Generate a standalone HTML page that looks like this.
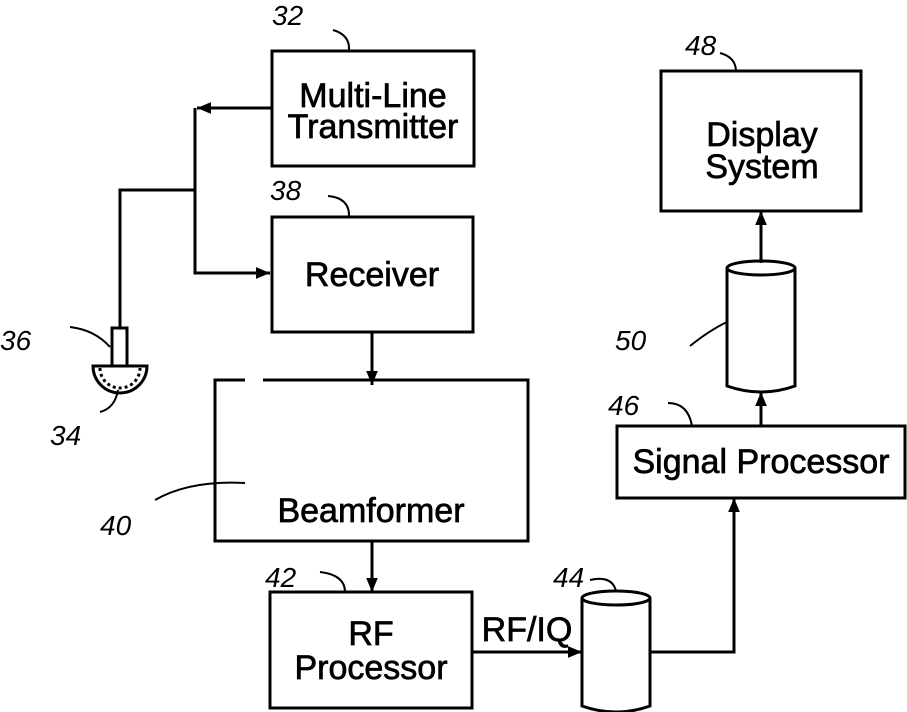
<!DOCTYPE html>
<html><head><style>html,body{margin:0;padding:0;background:#fff}svg{display:block}text{font-family:"Liberation Sans",sans-serif;fill:#000}</style></head><body>
<svg width="907" height="712" viewBox="0 0 907 712" xmlns="http://www.w3.org/2000/svg">
<defs><marker id="a" viewBox="0 0 12 12" refX="12" refY="6" markerWidth="14" markerHeight="14" markerUnits="userSpaceOnUse" orient="auto"><path d="M0,1 L12,6 L0,11 z" fill="#000"/></marker></defs>
<g stroke="#000" stroke-width="3" fill="none">
<rect x="272" y="51" width="202" height="115"/>
<rect x="272" y="217" width="201" height="115"/>
<path d="M245,380 L215,380 L215,541 L528,541 L528,380 L263,380"/>
<rect x="270" y="592" width="202" height="116"/>
<rect x="661" y="71" width="200" height="140"/>
<rect x="617" y="426" width="288" height="72"/>
<path d="M272,108 L197,108" marker-end="url(#a)"/>
<path d="M195,108 L195,273 L270,273" marker-end="url(#a)"/>
<path d="M195,190 L120,190 L120,327"/>
<path d="M372,332 L372,385" marker-end="url(#a)"/>
<path d="M372,541 L372,592" marker-end="url(#a)"/>
<path d="M472,652 L582,652" marker-end="url(#a)"/>
<path d="M650,652 L734,652 L734,498" marker-end="url(#a)"/>
<path d="M761,426 L761,392" marker-end="url(#a)"/>
<path d="M761,263 L761,211" marker-end="url(#a)"/>
<path d="M727,268 L727,386 Q761,398 795,386 L795,268"/>
<ellipse cx="761" cy="268" rx="34" ry="7"/>
<path d="M582,598 L582,706 Q616,718 650,706 L650,598"/>
<ellipse cx="616" cy="598" rx="34" ry="7"/>
<rect x="112" y="328" width="15" height="38"/>
<path d="M93,366 A27,27 0 0 0 147,366 Z"/>
<path d="M100,368 A20,20 0 0 0 140,368" stroke-dasharray="3,3" stroke-width="3"/>
</g>
<g stroke="#000" stroke-width="2" fill="none">
<path d="M333,30 Q350,35 349,50"/>
<path d="M328,196 Q350,198 349,217"/>
<path d="M70,327 Q95,330 110,347"/>
<path d="M100,412 Q115,408 118,390"/>
<path d="M155,500 Q190,480 245,483"/>
<path d="M320,572 Q345,575 345,592"/>
<path d="M590,580 Q612,575 616,591"/>
<path d="M690,346 Q710,330 727,322"/>
<path d="M668,403 Q688,403 692,426"/>
<path d="M720,53 Q735,57 736,70"/>
</g>
<g font-size="34" text-anchor="middle" stroke="#000" stroke-width="0.7">
<text x="373" y="107">Multi-Line</text>
<text x="373" y="138">Transmitter</text>
<text x="372" y="286">Receiver</text>
<text x="371" y="522">Beamformer</text>
<text x="371" y="645">RF</text>
<text x="371" y="679">Processor</text>
<text x="762" y="146">Display</text>
<text x="762" y="178">System</text>
<text x="761" y="473">Signal Processor</text>
<text x="527" y="641">RF/IQ</text>
</g>
<g font-size="28" font-style="italic" font-family="Liberation Serif,serif">
<text x="272" y="25">32</text>
<text x="270" y="200">38</text>
<text x="0" y="350">36</text>
<text x="50" y="445">34</text>
<text x="100" y="535">40</text>
<text x="265" y="587">42</text>
<text x="553" y="587">44</text>
<text x="608" y="415">46</text>
<text x="615" y="350">50</text>
<text x="685" y="55">48</text>
</g>
</svg>
</body></html>
